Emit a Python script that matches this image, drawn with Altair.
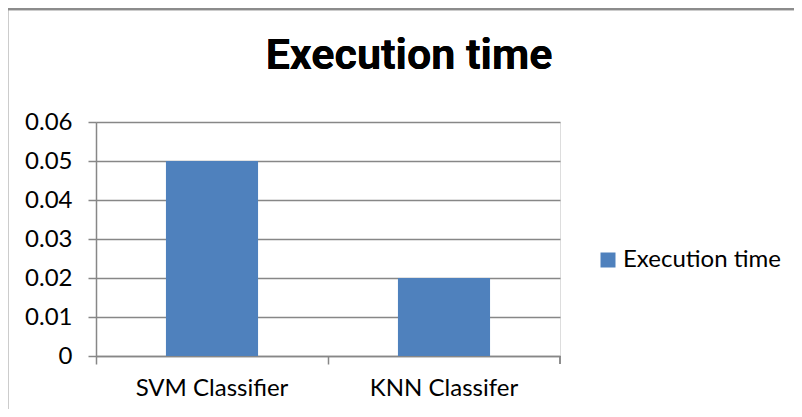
import altair as alt
import pandas as pd

categories = ["SVM Classifier", "KNN Classifer"]
values = [0.05, 0.02]
series = ["Execution time", "Execution time"]
y_ticks = [0, 0.01, 0.02, 0.03, 0.04, 0.05, 0.06]

df = pd.DataFrame({"classifier": categories, "value": values, "series": series})

W, H = 464, 234
FONT = "Lato"
FS = 24
GRID = "#878787"

base = alt.Chart(df)

bars = base.mark_bar(width=alt.RelativeBandSize(0.397), color="#4F81BD").encode(
    x=alt.X(
        "classifier:N",
        sort=categories,
        title=None,
        scale=alt.Scale(paddingInner=0, paddingOuter=0),
        axis=alt.Axis(
            bandPosition=0,
            labelAngle=0,
            labelFont=FONT,
            labelFontSize=FS,
            labelColor="#000000",
            labelPadding=12,
            domainColor=GRID,
            domainWidth=1.5,
            tickColor=GRID,
            tickWidth=1.5,
            tickSize=8,
            grid=False,
        ),
    ),
    y=alt.Y(
        "value:Q",
        title=None,
        scale=alt.Scale(domain=[0, 0.06], nice=False),
        axis=alt.Axis(
            values=y_ticks,
            format="~g",
            labelFont=FONT,
            labelFontSize=FS,
            labelColor="#000000",
            labelPadding=16,
            domainColor=GRID,
            domainWidth=1.5,
            tickColor=GRID,
            tickWidth=1.5,
            tickSize=8,
            gridColor=GRID,
            gridWidth=1.5,
        ),
    ),
    color=alt.Color(
        "series:N",
        scale=alt.Scale(range=["#4F81BD"]),
        legend=alt.Legend(
            title=None,
            orient="none",
            legendX=500,
            legendY=126,
            symbolType="square",
            symbolSize=225,
            symbolStrokeWidth=0,
            labelFont=FONT,
            labelFontSize=FS,
            labelColor="#000000",
            labelOffset=3,
            padding=0,
        ),
    ),
)

end_tick = base.mark_rule(color=GRID, strokeWidth=1.5).encode(
    x=alt.value(W), y=alt.value(H), y2=alt.value(H + 8)
)

border_left = base.mark_rule(color="#8c8c8c", strokeWidth=2.5, clip=False).encode(
    x=alt.value(-89), y=alt.value(-113), y2=alt.value(320)
)
border_top = base.mark_rule(color="#8c8c8c", strokeWidth=2.5, clip=False).encode(
    x=alt.value(-89), x2=alt.value(720), y=alt.value(-113)
)

title = base.mark_text(
    text="Execution time",
    font="Roboto",
    fontWeight="bold",
    fontSize=43,
    align="center",
    baseline="alphabetic",
    color="#000000",
).encode(x=alt.value(313), y=alt.value(-53))

chart = (
    alt.layer(bars, end_tick, border_left, border_top, title)
    .properties(
        width=W,
        height=H,
        autosize=alt.AutoSizeParams(type="none"),
        padding={"left": 88, "top": 114, "right": 234, "bottom": 53},
    )
    .configure_view(stroke=None)
    .configure(background="#ffffff")
)

chart.save("out.html", embed_options={"renderer": "svg", "actions": False})
